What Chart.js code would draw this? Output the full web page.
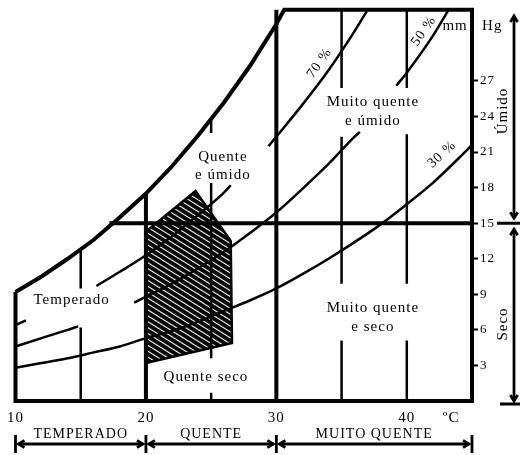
<!DOCTYPE html>
<html>
<head>
<meta charset="utf-8">
<script src="https://cdn.jsdelivr.net/npm/chart.js@4.4.1/dist/chart.umd.min.js"></script>
<style>
html, body { margin: 0; padding: 0; background: #fff; }
</style>
</head>
<body>
<canvas id="carta" width="520" height="455"></canvas>
<script>
//* Ticks de los ejes
const xTicks = [10, 20, 30, 40];
const yTicks = [3, 6, 9, 12, 15, 18, 21, 24, 27];

//* Curva de saturación (100 %), temperatura ºC / presión mm Hg
const satT = [10, 12, 14, 16, 18, 20, 22, 24, 26, 28, 30, 30.6];
const satP = [9.2, 10.5, 12.0, 13.6, 15.5, 17.5, 19.8, 22.4, 25.2, 28.3, 31.8, 33];

//* Esquinas del marco (después de la curva de saturación)
const frameT = [45, 45, 10, 10];
const frameP = [33, 0, 0, 9.2];

//* Curvas de humedad relativa, por tramos (los huecos dejan sitio al texto)
const rh70T = [[10, 10.8], [16.2, 18, 20, 22, 24, 26, 26.5], [29.4, 30, 32, 34, 36, 37]];
const rh70P = [[6.4, 6.8], [9.7, 10.9, 12.3, 13.9, 15.7, 17.6, 18.2], [21.5, 22.3, 25.0, 27.9, 31.2, 33]];
const rh50T = [[10, 12, 14, 14.8], [19.1, 20, 22, 24, 26, 28, 30, 32, 34, 36, 36.4], [39.2, 40, 42, 43.2]];
const rh50P = [[4.6, 5.3, 6.0, 6.3], [8.3, 8.8, 9.9, 11.2, 12.6, 14.2, 15.9, 17.9, 20.0, 22.3, 22.7], [26.6, 27.7, 30.8, 33]];
const rh30T = [[10, 12, 14, 16, 18, 20, 22, 24, 26, 28, 30, 32, 34, 36, 38, 40, 42, 44, 45]];
const rh30P = [[2.8, 3.2, 3.6, 4.1, 4.6, 5.3, 5.9, 6.7, 7.6, 8.5, 9.5, 10.7, 12.0, 13.4, 14.9, 16.6, 18.4, 20.5, 21.6]];

//* Líneas verticales (temperatura) por tramos de presión
const iso15P = [[12.8, 9.5], [6.2, 0]];
const iso20P = [[0, 17.5]];
const iso25P = [[23.8, 22.6], [18.4, 3.6], [0.7, 0]];
const iso30P = [[0, 33]];
const iso35P = [[33, 26.4], [22.3, 9.9], [5.1, 0]];
const iso40P = [[33, 26.4], [22.5, 9.9], [5.1, 0]];

//* Línea horizontal de 15 mm Hg
const limT = [17.2, 45];
const limP = [15, 15];

//* Zona de confort (rayada)
const zonaT = [20, 26.6, 26.5, 23.8, 20, 20];
const zonaP = [3.2, 4.9, 13.5, 17.7, 14.3, 3.2];

//* Franjas de temperatura del pie
const franjaNombres = ["TEMPERADO", "QUENTE", "MUITO QUENTE"];
const franjaBordes = [10, 20, 30, 45];

const serif = "'Liberation Serif', 'DejaVu Serif', serif";
const grueso = 4;
const fino = 2.5;

//* Rayado de la zona de confort
function rayado() {
	let c = document.createElement("canvas");
	c.width = 10;
	c.height = 5;
	let g = c.getContext("2d");
	g.fillStyle = "#000";
	g.fillRect(0, 0, 10, 5);
	g.fillStyle = "#fff";
	g.fillRect(0, 3.9, 10, 1.1);
	let p = g.createPattern(c, "repeat");
	p.setTransform(new DOMMatrix().rotateSelf(32));
	return p;
}

function puntos(ts, ps) {
	return ts.map((t, i) => ({ x: t, y: ps[i] }));
}

let datasets = [];

function linea(data, ancho) {
	datasets.push({
		data: data,
		showLine: true,
		borderColor: "#000",
		borderWidth: ancho,
		pointRadius: 0,
		tension: 0,
		fill: false,
		clip: false,
		borderJoinStyle: "miter",
		borderCapStyle: "butt",
	});
}

function curva(tsegs, psegs, ancho) {
	tsegs.forEach((seg, i) => {
		linea(puntos(seg, psegs[i]), ancho);
		datasets[datasets.length - 1].cubicInterpolationMode = "monotone";
		datasets[datasets.length - 1].borderJoinStyle = "round";
	});
}

function vertical(t, psegs, ancho) {
	psegs.forEach((seg) => linea(seg.map((p) => ({ x: t, y: p })), ancho));
}

//* Marco + saturación en una sola polilínea
linea(puntos(satT.concat(frameT), satP.concat(frameP)), grueso);
linea(puntos(limT, limP), grueso);
vertical(20, iso20P, grueso);
vertical(30, iso30P, grueso);
vertical(15, iso15P, fino);
vertical(25, iso25P, fino);
vertical(35, iso35P, fino);
vertical(40, iso40P, fino);
curva(rh70T, rh70P, fino);
curva(rh50T, rh50P, fino);
curva(rh30T, rh30P, fino);
//* La zona rayada va al final para pintarse primero
datasets.push({
	data: puntos(zonaT, zonaP),
	showLine: true,
	borderColor: "#000",
	borderWidth: 2.5,
	pointRadius: 0,
	backgroundColor: rayado(),
	fill: "shape",
	clip: false,
});

//* Textos de las zonas (coordenadas en ºC / mm Hg)
const textos = [
	{ t: "Temperado", x: 14.3, y: 8.5 },
	{ t: "Quente seco", x: 24.6, y: 2.0 },
	{ t: "Quente", x: 25.9, y: 20.6 },
	{ t: "e úmido", x: 25.9, y: 19.1 },
	{ t: "Muito quente", x: 37.4, y: 25.2 },
	{ t: "e úmido", x: 37.4, y: 23.6 },
	{ t: "Muito quente", x: 37.4, y: 7.8 },
	{ t: "e seco", x: 37.4, y: 6.2 },
	{ t: "mm", x: 43.7, y: 31.6 },
	{ t: "Hg", x: 46.55, y: 31.6 },
];
const rotulos = [
	{ t: "70 %", x: 33.3, y: 28.5, a: -55 },
	{ t: "50 %", x: 41.3, y: 31.2, a: -55 },
	{ t: "30 %", x: 42.7, y: 20.8, a: -42 },
];

function flecha(ctx, x1, y1, x2, y2, h) {
	let ang = Math.atan2(y2 - y1, x2 - x1);
	ctx.beginPath();
	ctx.moveTo(x1, y1);
	ctx.lineTo(x2, y2);
	ctx.stroke();
	[[x1, y1, ang + Math.PI], [x2, y2, ang]].forEach(([x, y, a]) => {
		ctx.beginPath();
		ctx.moveTo(x - h * Math.cos(a - 0.55), y - h * Math.sin(a - 0.55));
		ctx.lineTo(x, y);
		ctx.lineTo(x - h * Math.cos(a + 0.55), y - h * Math.sin(a + 0.55));
		ctx.stroke();
	});
}

const anotaciones = {
	id: "anotaciones",
	beforeDraw(chart) {
		//* Espaciado de letras para los ticks
		chart.ctx.letterSpacing = "1px";
	},
	afterDraw(chart) {
		const ctx = chart.ctx;
		const sx = chart.scales.x;
		const sy = chart.scales.y;
		ctx.save();
		ctx.fillStyle = "#000";
		ctx.strokeStyle = "#000";
		ctx.textAlign = "center";
		ctx.textBaseline = "middle";
		ctx.font = "15px " + serif;
		ctx.letterSpacing = "1px";
		textos.forEach((o) => ctx.fillText(o.t, sx.getPixelForValue(o.x), sy.getPixelForValue(o.y)));
		ctx.font = "14px " + serif;
		rotulos.forEach((o) => {
			ctx.save();
			ctx.translate(sx.getPixelForValue(o.x), sy.getPixelForValue(o.y));
			ctx.rotate((o.a * Math.PI) / 180);
			ctx.fillText(o.t, 0, 0);
			ctx.restore();
		});
		//* ºC junto al eje x
		ctx.font = "15px " + serif;
		ctx.fillText("ºC", sx.getPixelForValue(43.4), 418);

		//* Columna derecha: Úmido / Seco
		let y15 = sy.getPixelForValue(15);
		let y0 = sy.getPixelForValue(0);
		ctx.lineWidth = 3;
		ctx.beginPath();
		ctx.moveTo(497, y15);
		ctx.lineTo(520, y15);
		ctx.moveTo(500, y0 + 3);
		ctx.lineTo(520, y0 + 3);
		ctx.stroke();
		ctx.lineWidth = 2.8;
		flecha(ctx, 514, 16, 514, y15 - 5, 7);
		flecha(ctx, 514, y15 + 6, 514, y0, 7);
		ctx.save();
		ctx.translate(503, 111);
		ctx.rotate(-Math.PI / 2);
		ctx.fillText("Úmido", 0, 0);
		ctx.restore();
		ctx.save();
		ctx.translate(503, 324);
		ctx.rotate(-Math.PI / 2);
		ctx.fillText("Seco", 0, 0);
		ctx.restore();

		//* Pie: franjas de temperatura
		let ya = 444;
		ctx.lineWidth = 2.8;
		franjaBordes.forEach((b) => {
			let px = sx.getPixelForValue(b);
			ctx.beginPath();
			ctx.moveTo(px, ya - 9);
			ctx.lineTo(px, ya + 9);
			ctx.stroke();
		});
		ctx.font = "14px " + serif;
		franjaNombres.forEach((n, i) => {
			let a = sx.getPixelForValue(franjaBordes[i]);
			let b = sx.getPixelForValue(franjaBordes[i + 1]);
			flecha(ctx, a + 3, ya, b - 3, ya, 7);
			ctx.fillText(n, (a + b) / 2, 434);
		});
		ctx.restore();
		ctx.letterSpacing = "0px";
	},
};

const ctx = document.getElementById("carta");
const carta = new Chart(ctx, {
	type: "scatter",
	data: { datasets: datasets },
	options: {
		responsive: false,
		animation: false,
		events: [],
		layout: { padding: { left: 10, top: 9, right: 0, bottom: 0 } },
		plugins: { legend: { display: false }, tooltip: { enabled: false } },
		scales: {
			x: {
				type: "linear",
				min: 10,
				max: 45,
				afterFit: (s) => { s.height = 54; },
				afterBuildTicks: (s) => { s.ticks = xTicks.map((v) => ({ value: v })); },
				grid: { display: false, drawTicks: false },
				border: { display: false },
				ticks: { padding: 8, color: "#000", font: { family: serif, size: 15 } },
			},
			y: {
				type: "linear",
				position: "right",
				min: 0,
				max: 33,
				afterFit: (s) => { s.width = 48; },
				afterBuildTicks: (s) => { s.ticks = yTicks.map((v) => ({ value: v })); },
				grid: { drawOnChartArea: false, drawTicks: true, tickLength: 6, tickWidth: 2, color: "#000" },
				border: { display: false },
				ticks: { padding: 2, color: "#000", font: { family: serif, size: 13 } },
			},
		},
	},
	plugins: [anotaciones],
});
</script>
</body>
</html>
